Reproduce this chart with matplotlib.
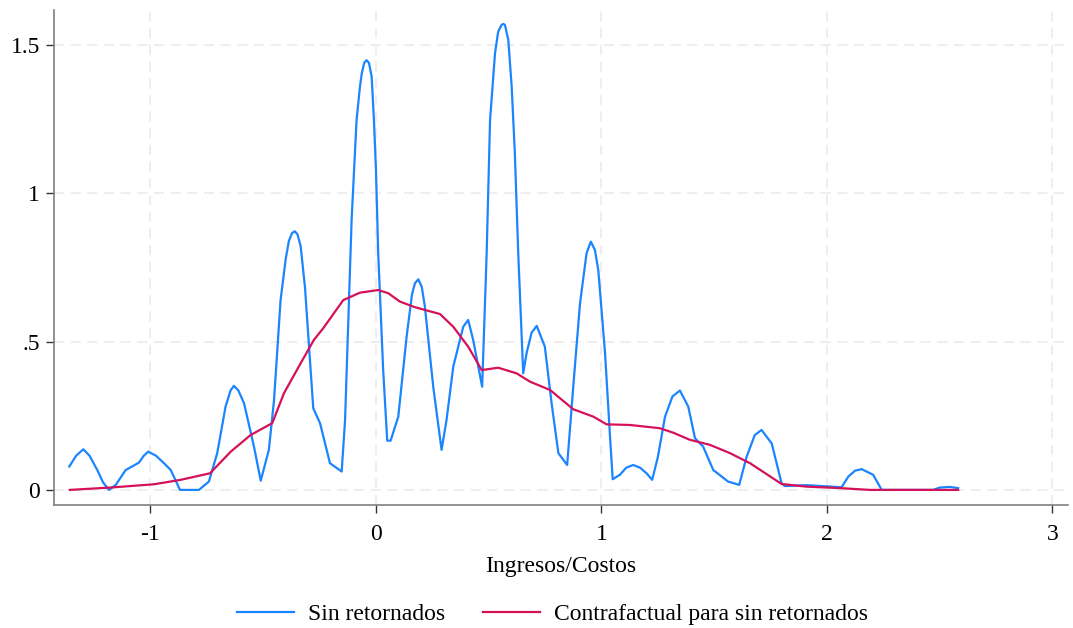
import matplotlib
matplotlib.use("Agg")
import matplotlib.pyplot as plt

plt.rcParams['font.family'] = ['Liberation Serif', 'DejaVu Serif']

# Sin retornados (density)
x_sin = [-1.36, -1.33, -1.298, -1.27, -1.236, -1.21, -1.184, -1.154, -1.11, -1.051, -1.03, -1.010,
         -0.975, -0.940, -0.910, -0.869, -0.785, -0.741, -0.704, -0.667, -0.645, -0.630, -0.610,
         -0.585, -0.541, -0.511, -0.475, -0.452, -0.423, -0.400, -0.386, -0.372, -0.360, -0.348,
         -0.334, -0.315, -0.278, -0.248, -0.204, -0.152, -0.137, -0.108, -0.093, -0.086, -0.071,
         -0.063, -0.052, -0.042, -0.031, -0.019, -0.009, 0.000, 0.010, 0.032, 0.050, 0.065,
         0.099, 0.136, 0.160, 0.173, 0.188, 0.203, 0.217, 0.254, 0.291, 0.313, 0.343,
         0.387, 0.409, 0.431, 0.471, 0.491, 0.506, 0.528, 0.542, 0.557, 0.565, 0.572, 0.587,
         0.602, 0.616, 0.631, 0.653, 0.668, 0.690, 0.713, 0.749, 0.779, 0.809, 0.848, 0.875,
         0.905, 0.934, 0.953, 0.971, 0.986, 1.016, 1.038, 1.050, 1.082, 1.110, 1.141, 1.171,
         1.200, 1.225, 1.250, 1.282, 1.315, 1.348, 1.385, 1.415, 1.451, 1.496, 1.562, 1.611,
         1.644, 1.680, 1.710, 1.755, 1.799, 1.814, 1.910, 2.065, 2.095, 2.125, 2.154, 2.205,
         2.243, 2.471, 2.501, 2.545, 2.582]
y_sin = [0.079, 0.115, 0.137, 0.115, 0.067, 0.025, 0.000, 0.017, 0.067, 0.092, 0.115, 0.129,
         0.115, 0.090, 0.067, 0.000, 0.000, 0.028, 0.124, 0.281, 0.335, 0.351, 0.335,
         0.292, 0.146, 0.031, 0.135, 0.303, 0.640, 0.780, 0.840, 0.866, 0.872, 0.862,
         0.822, 0.685, 0.275, 0.225, 0.090, 0.062, 0.236, 0.910, 1.135, 1.247, 1.359,
         1.404, 1.440, 1.449, 1.440, 1.393, 1.247, 1.079, 0.798, 0.404, 0.166, 0.166,
         0.247, 0.517, 0.660, 0.697, 0.710, 0.685, 0.618, 0.348, 0.135, 0.236, 0.416,
         0.550, 0.573, 0.506, 0.348, 0.798, 1.247, 1.472, 1.545, 1.568, 1.571, 1.568, 1.517,
         1.359, 1.135, 0.798, 0.393, 0.461, 0.530, 0.553, 0.483, 0.292, 0.124, 0.084, 0.348,
         0.629, 0.798, 0.837, 0.809, 0.741, 0.461, 0.180, 0.036, 0.051, 0.075, 0.084, 0.075,
         0.056, 0.034, 0.110, 0.247, 0.315, 0.335, 0.281, 0.174, 0.146, 0.067, 0.028, 0.017,
         0.112, 0.185, 0.202, 0.157, 0.022, 0.013, 0.016, 0.009, 0.045, 0.065, 0.070, 0.051,
         0.000, 0.000, 0.008, 0.010, 0.006]

# Contrafactual para sin retornados
x_con = [-1.358, -1.177, -0.984, -0.866, -0.736, -0.644, -0.556, -0.460, -0.408, -0.334, -0.275,
         -0.234, -0.145, -0.071, 0.010, 0.055, 0.106, 0.173, 0.284, 0.343, 0.409, 0.469, 0.542,
         0.624, 0.683, 0.772, 0.875, 0.964, 1.023, 1.126, 1.259, 1.318, 1.392, 1.481, 1.570,
         1.659, 1.733, 1.799, 1.910, 2.058, 2.191, 2.582]
y_con = [0.000, 0.008, 0.019, 0.034, 0.056, 0.129, 0.185, 0.225, 0.326, 0.427, 0.506,
         0.545, 0.640, 0.665, 0.674, 0.663, 0.635, 0.616, 0.593, 0.550, 0.483, 0.404, 0.412,
         0.393, 0.365, 0.337, 0.272, 0.247, 0.221, 0.219, 0.208, 0.193, 0.169, 0.152, 0.124,
         0.090, 0.053, 0.020, 0.011, 0.006, 0.000, 0.000]

x_ticks = [-1, 0, 1, 2, 3]
y_ticks = [0, 0.5, 1, 1.5]
y_ticklabels = ['0', '.5', '1', '1.5']

fig = plt.figure(figsize=(10.73, 6.28), dpi=100)
ax = fig.add_axes([0.0503, 0.196, 0.945, 0.788])

ax.plot(x_sin, y_sin, color='#1A85FF', lw=1.6, label='Sin retornados')
ax.plot(x_con, y_con, color='#D41159', lw=1.6, label='Contrafactual para sin retornados')

ax.set_xlim(-1.428, 3.069)
ax.set_ylim(-0.0506, 1.618)
ax.set_xticks(x_ticks)
ax.set_xticklabels(['-1', '0', '1', '2', '3'])
ax.set_yticks(y_ticks)
ax.set_yticklabels(y_ticklabels)

ax.grid(True, color='#ebebeb', ls=(0, (6, 4)), lw=1.2)
ax.set_axisbelow(True)
for s in ['top', 'right']:
    ax.spines[s].set_visible(False)
for s in ['left', 'bottom']:
    ax.spines[s].set_color('#7f7f7f')
    ax.spines[s].set_linewidth(1.2)

ax.tick_params(axis='both', labelsize=17, length=6, width=1, color='#333333')
ax.tick_params(axis='x', pad=8)
ax.tick_params(axis='y', pad=4)
ax.set_xlabel('Ingresos/Costos', fontsize=17, labelpad=8)

ax.legend(loc='center', bbox_to_anchor=(0.515, 0.022), bbox_transform=fig.transFigure,
          ncol=2, frameon=False, fontsize=17, handlelength=2.4, handletextpad=0.6,
          columnspacing=1.6)

plt.savefig('out.png', dpi=100)
